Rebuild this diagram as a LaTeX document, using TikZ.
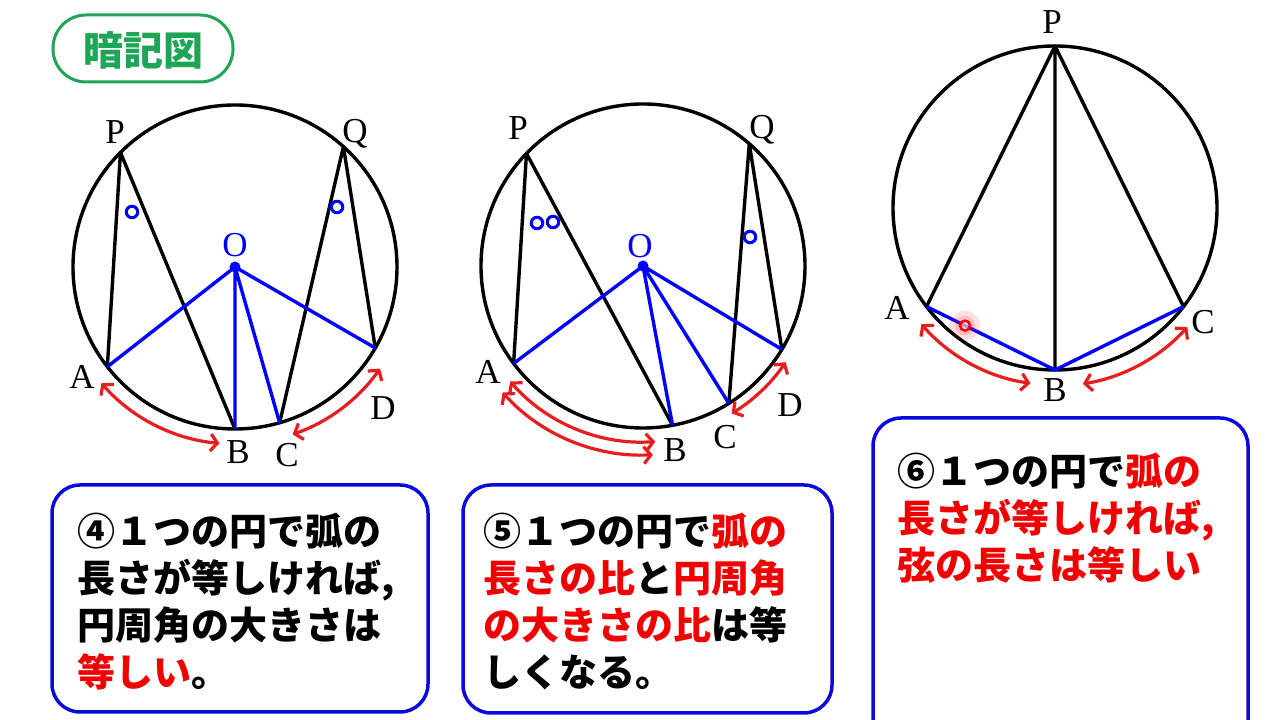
\documentclass[tikz,border=0pt]{standalone}
\usepackage{fontspec}
\setmainfont{Liberation Serif}
\newfontfamily\jp{Noto Sans CJK JP}
\usetikzlibrary{arrows.meta, positioning, calc}
\definecolor{pillgreen}{RGB}{30,165,85}
\definecolor{arcred}{RGB}{230,30,30}
\definecolor{txtred}{RGB}{240,0,0}
\definecolor{boxblue}{RGB}{10,10,220}
\newcommand{\hlred}[1]{\textcolor{txtred}{#1}}
\tikzset{
x=1pt, y=1pt, % one unit is one pixel of the picture
rim/.style={line width=3.4pt, black}, % the circles
chordline/.style={line width=3.4pt, black, line join=round}, % black chords
bluechord/.style={line width=3.4pt, blue, line join=round}, % radii and blue chords
arcarrow/.style={{Straight Barb[length=7pt, width=17pt]}-{Straight Barb[length=7pt, width=17pt]}, line width=3.2pt, arcred}, % arc arrows
anglemark/.style={draw=blue, line width=3pt, circle, inner sep=0pt, minimum size=11.5pt}, % small rings at the angles
ptlabel/.style={font=\fontsize{35}{35}\selectfont, inner sep=0pt}, % point names
memo/.style={draw=boxblue, line width=3.5pt, rounded corners=28pt}, % the blue boxes
memotext/.style={font=\jp\bfseries\fontsize{38}{47}\selectfont, align=left, anchor=north west, inner sep=0pt},
}

\begin{document}
\begin{tikzpicture}
  \useasboundingbox (0,0) rectangle (1280,720);

  % title pill
  \draw[pillgreen, line width=3pt, rounded corners=33pt] (53,638) rectangle (233,705);
  \node[font=\jp\bfseries\fontsize{40}{40}\selectfont, text=pillgreen, inner sep=0pt] (title) at (143,670) {暗記図};

  % circle (4)
  \begin{scope}[shift={(235,453)}]
    \coordinate (O1) at (0,0);
    \coordinate (P1) at (135:162);
    \coordinate (Q1) at (48:162);
    \coordinate (A1) at (218:162);
    \coordinate (B1) at (270:162);
    \coordinate (C1) at (286:162);
    \coordinate (D1) at (330:162);
    \draw[rim] (O1) circle[radius=162];
    \draw[chordline] (A1) -- (P1) -- (B1);
    \draw[chordline] (C1) -- (Q1) -- (D1);
    \draw[bluechord] (A1) -- (O1) -- (D1) (B1) -- (O1) -- (C1);
    \fill[blue] (O1) circle[radius=5.5];
    \draw[arcarrow] (221:177) arc[start angle=221, end angle=265, radius=177];
    \draw[arcarrow] (289:177) arc[start angle=289, end angle=325, radius=177];
    \node[anglemark] (m1P) at (-103,55) {};
    \node[anglemark] (m1Q) at (102,60) {};
    \node[ptlabel] (lP1) at (-120,135) {P};
    \node[ptlabel] (lQ1) at (120,133) {Q};
    \node[ptlabel, text=blue] (lO1) at (0,22) {O};
    \node[ptlabel] (lA1) at (-153,-110) {A};
    \node[ptlabel] (lB1) at (3,-185) {B};
    \node[ptlabel] (lC1) at (52,-188) {C};
    \node[ptlabel] (lD1) at (148,-141) {D};
  \end{scope}

  % circle (5)
  \begin{scope}[shift={(643,454)}]
    \coordinate (O2) at (0,0);
    \coordinate (P2) at (136:162);
    \coordinate (Q2) at (49:162);
    \coordinate (A2) at (217:162);
    \coordinate (B2) at (280.5:162);
    \coordinate (C2) at (302:162);
    \coordinate (D2) at (329:162);
    \draw[rim] (O2) circle[radius=162];
    \draw[chordline] (A2) -- (P2) -- (B2);
    \draw[chordline] (C2) -- (Q2) -- (D2);
    \draw[bluechord] (A2) -- (O2) -- (D2) (B2) -- (O2) -- (C2);
    \fill[blue] (O2) circle[radius=5.5];
    \draw[arcarrow] (221:176) arc[start angle=221, end angle=274, radius=176];
    \draw[arcarrow] (222:189) arc[start angle=222, end angle=273, radius=189];
    \draw[arcarrow] (301:172) arc[start angle=301, end angle=326, radius=172];
    \node[anglemark] (m2Pa) at (-106,43) {};
    \node[anglemark] (m2Pb) at (-90,44) {};
    \node[anglemark] (m2Q) at (107,29) {};
    \node[ptlabel] (lP2) at (-125,138) {P};
    \node[ptlabel] (lQ2) at (119,136) {Q};
    \node[ptlabel, text=blue] (lO2) at (-3,20) {O};
    \node[ptlabel] (lA2) at (-155,-106) {A};
    \node[ptlabel] (lB2) at (32,-184) {B};
    \node[ptlabel] (lC2) at (82,-171) {C};
    \node[ptlabel] (lD2) at (147,-139) {D};
  \end{scope}

  % circle (6)
  \begin{scope}[shift={(1055,512)}]
    \coordinate (O3) at (0,0);
    \coordinate (P3) at (90:162);
    \coordinate (A3) at (217.5:162);
    \coordinate (B3) at (270:162);
    \coordinate (C3) at (322.5:162);
    \draw[rim] (O3) circle[radius=162];
    \draw[chordline] (A3) -- (P3) -- (C3) (P3) -- (B3);
    \draw[bluechord] (A3) -- (B3) -- (C3);
    \coordinate (M3) at ($(A3)!0.3!(B3)$);
    \fill[red, opacity=0.12] (M3) circle[radius=15];
    \fill[red, opacity=0.15] (M3) circle[radius=10];
    \draw[red, line width=2.5pt, fill=white, fill opacity=0.6] (M3) circle[radius=5];
    \draw[arcarrow] (221:177) arc[start angle=221, end angle=262, radius=177];
    \draw[arcarrow] (279:178) arc[start angle=279, end angle=318, radius=178];
    \node[ptlabel] (lP3) at (-3,186) {P};
    \node[ptlabel] (lA3) at (-158,-100) {A};
    \node[ptlabel] (lB3) at (0,-182) {B};
    \node[ptlabel] (lC3) at (148,-114) {C};
  \end{scope}

  % boxes
  \draw[memo] (52,8) rectangle (428,235);
  \node[memotext] (t4) at (77,207) {④１つの円で弧の\\長さが等しければ,\\円周角の大きさは\\\hlred{等しい}。};

  \draw[memo] (463,7) rectangle (832,235);
  \node[memotext] (t5) at (483,207) {⑤１つの円で\hlred{弧の}\\\hlred{長さの比}と\hlred{円周角}\\\hlred{の大きさの比}は等\\しくなる。};

  \draw[memo] (873,-40) rectangle (1248,302);
  \node[memotext] (t6) at (897,267) {⑥１つの円で\hlred{弧の}\\\hlred{長さが等しければ,}\\\hlred{弦の長さは等しい}};
\end{tikzpicture}
\end{document}
